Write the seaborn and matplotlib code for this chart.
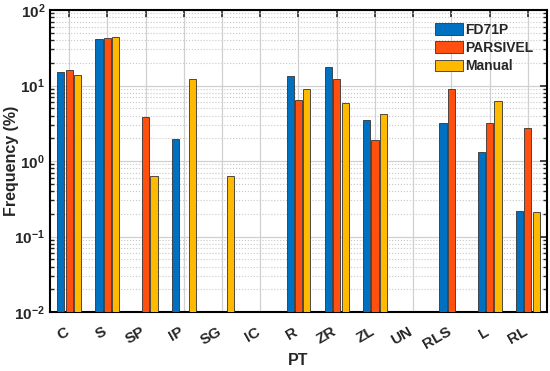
import numpy as np
import pandas as pd
import matplotlib
matplotlib.use("Agg")
import matplotlib.pyplot as plt
import matplotlib.transforms as mtransforms
import seaborn as sns
from matplotlib.ticker import LogLocator, NullFormatter

# precipitation types and frequencies (%); NaN = no bar
categories = ['C', 'S', 'SP', 'IP', 'SG', 'IC', 'R', 'ZR', 'ZL', 'UN', 'RLS', 'L', 'RL']
fd71p = [15.3, 41.5, np.nan, 1.95, np.nan, np.nan, 13.2, 17.8, 3.45, np.nan, 3.2, 1.3, 0.22]
parsivel = [16.2, 43.0, 3.8, np.nan, np.nan, np.nan, 6.4, 12.1, 1.92, np.nan, 8.9, 3.15, 2.75]
manual = [13.9, 44.5, 0.64, 12.2, 0.64, np.nan, 8.9, 5.9, 4.2, np.nan, np.nan, 6.2, 0.21]
series = ['FD71P', 'PARSIVEL', 'Manual']
colors = ['#0070C0', '#FF500F', '#FFBA00']

df = pd.DataFrame({'PT': categories * 3,
                   'source': np.repeat(series, len(categories)),
                   'freq': fd71p + parsivel + manual})

sns.set_style("white")
plt.rcParams['font.family'] = ['Liberation Sans', 'DejaVu Sans']
plt.rcParams['font.weight'] = 'bold'
plt.rcParams['mathtext.fontset'] = 'custom'
plt.rcParams['mathtext.rm'] = 'Liberation Sans:bold'
plt.rcParams['mathtext.bf'] = 'Liberation Sans:bold'
plt.rcParams['mathtext.default'] = 'bf'

fig = plt.figure(figsize=(5.5, 3.71), dpi=100)
ax = fig.add_axes([0.0909, 0.159, 0.9036, 0.814])
ax.set_yscale('log')

sns.barplot(data=df, x='PT', y='freq', hue='source', palette=colors,
            saturation=1, width=0.66, gap=0.15, edgecolor='#333333',
            linewidth=0.6, ax=ax, zorder=3)

ax.set_ylim(1e-2, 1e2)
ax.set_xlim(-0.5, len(categories) - 0.5)

# grid like MATLAB: solid major, dotted minor
ax.yaxis.set_minor_locator(LogLocator(base=10, subs=np.arange(2, 10), numticks=20))
ax.yaxis.set_minor_formatter(NullFormatter())
ax.set_yticks([1e-2, 1e-1, 1e0, 1e1, 1e2])
ax.set_yticklabels([r'$10^{-2}$', r'$10^{-1}$', r'$10^{0}$', r'$10^{1}$', r'$10^{2}$'])
ax.set_xticks(range(len(categories)))
ax.set_xticklabels(categories)
ax.grid(True, which='major', axis='both', color='#d0d0d0', linewidth=0.9, zorder=0)
ax.grid(True, which='minor', axis='y', color='#c8c8c8', linestyle=':', linewidth=0.8, zorder=0)
ax.set_axisbelow(True)

ax.tick_params(which='major', direction='in', length=5, width=1.2,
               top=True, right=True, labelsize=11)
ax.tick_params(axis='x', which='major', pad=9)
ax.tick_params(which='minor', direction='in', length=3, width=1,
               left=True, right=True)
ax.tick_params(axis='x', which='minor', bottom=False, top=False)

# rotated category labels, nudged a little to the left
shift = mtransforms.ScaledTranslation(-5 / 100, 0, fig.dpi_scale_trans)
for lbl in ax.get_xticklabels():
    lbl.set_rotation(30)
    lbl.set_ha('right')
    lbl.set_va('top')
    lbl.set_rotation_mode('anchor')
    lbl.set_transform(lbl.get_transform() + shift)

for s in ax.spines.values():
    s.set_linewidth(1.5)
    s.set_color('black')

ax.set_xlabel('PT', fontsize=11.5, fontweight='bold')
ax.set_ylabel('Frequency (%)', fontsize=11.5, fontweight='bold')
ax.xaxis.set_label_coords(0.5, -0.135)
ax.yaxis.set_label_coords(-0.062, 0.5)

ax.legend(loc='upper right', bbox_to_anchor=(0.99, 0.985), frameon=False,
          handlelength=2.0, handleheight=0.9,
          handletextpad=0.2, labelspacing=0.3, borderaxespad=0.2,
          prop={'weight': 'bold', 'size': 10})

fig.savefig('out.png', dpi=100)
